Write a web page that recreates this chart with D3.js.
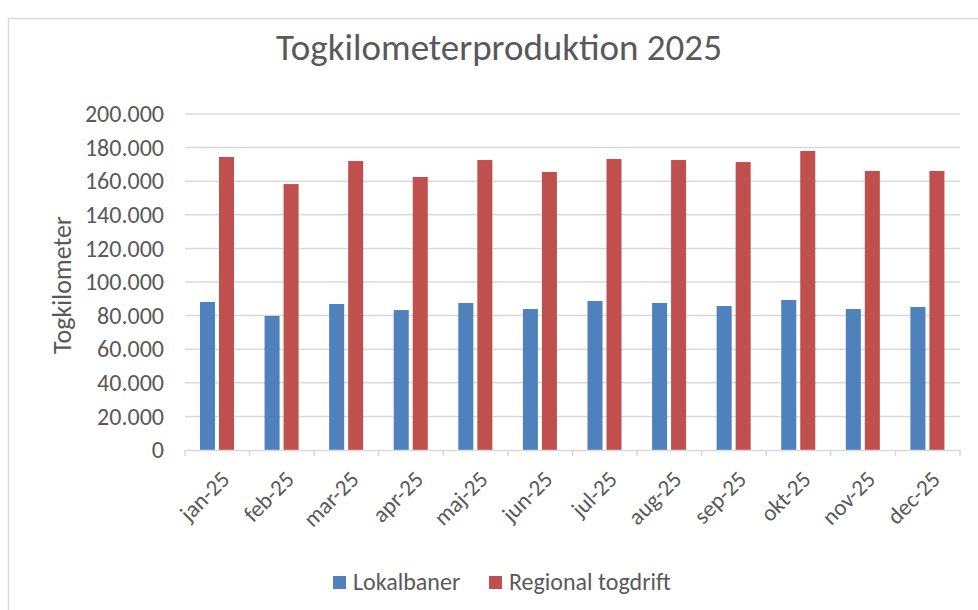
<!DOCTYPE html>
<html>
<head>
<meta charset="utf-8">
<script src="https://cdn.jsdelivr.net/npm/d3@7"></script>
<style>
  body { margin: 0; background: #fff; }
  text { font-family: Carlito, Calibri, Lato, sans-serif; fill: #595959; }
</style>
</head>
<body>
<svg id="chart" width="978" height="610"></svg>
<script>
const months = ["jan-25", "feb-25", "mar-25", "apr-25", "maj-25", "jun-25",
  "jul-25", "aug-25", "sep-25", "okt-25", "nov-25", "dec-25"];
const series = ["Lokalbaner", "Regional togdrift"];
const lokalbaner = [88100, 79800, 86900, 83300, 87500, 83900, 88700, 87500, 85700, 89300, 83900, 85100];
const regional = [174400, 158300, 172000, 162500, 172600, 165500, 173200, 172600, 171400, 178000, 166100, 166100];
const yTicks = [0, 20000, 40000, 60000, 80000, 100000, 120000, 140000, 160000, 180000, 200000];

const colors = { "Lokalbaner": "#4F81BD", "Regional togdrift": "#C0504D" };
const grid = "#D9D9D9";
const font = "Carlito, Calibri, Lato, sans-serif";

const svg = d3.select("#chart");

// ramme om diagrammet
svg.append("rect")
  .attr("x", 8.5).attr("y", 18.5)
  .attr("width", 1000).attr("height", 1000)
  .attr("fill", "none").attr("stroke", grid).attr("stroke-width", 1.5);

const da = d3.formatLocale({ decimal: ",", thousands: ".", grouping: [3], currency: ["", " kr"] });
const fmt = da.format(",.0f");

const x0 = d3.scaleBand().domain(months).range([185, 960]);
const bw = x0.bandwidth();
const x1 = d3.scaleBand().domain(series).range([0.232 * bw, 0.759 * bw]).paddingInner(0.21);
const y = d3.scaleLinear().domain([0, 200000]).range([450, 114]);

// gitterlinjer
svg.append("g")
  .selectAll("line")
  .data(yTicks.filter(d => d > 0))
  .enter().append("line")
  .attr("x1", 185).attr("x2", 960)
  .attr("y1", d => y(d)).attr("y2", d => y(d))
  .attr("stroke", grid).attr("stroke-width", 1.5);

// y-akse tekster
const yAxis = svg.append("g")
  .attr("transform", "translate(164,0)")
  .call(d3.axisLeft(y).tickValues(yTicks).tickFormat(d => d === 0 ? "0" : fmt(d)).tickSize(0).tickPadding(0));
yAxis.select(".domain").remove();
yAxis.selectAll("text")
  .attr("fill", "#595959")
  .style("font-size", "24px")
  .style("font-family", font);

// søjler
const rows = months.map((m, i) => ({ month: m, values: [
  { key: series[0], value: lokalbaner[i] },
  { key: series[1], value: regional[i] }
] }));

svg.append("g")
  .selectAll("g")
  .data(rows)
  .enter().append("g")
  .attr("transform", d => `translate(${x0(d.month)},0)`)
  .selectAll("rect")
  .data(d => d.values)
  .enter().append("rect")
  .attr("x", d => x1(d.key))
  .attr("width", x1.bandwidth())
  .attr("y", d => y(d.value))
  .attr("height", d => y(0) - y(d.value))
  .attr("fill", d => colors[d.key]);

// x-akse
const xAxis = svg.append("g")
  .attr("transform", `translate(0,${y(0)})`)
  .call(d3.axisBottom(x0).tickSize(0).tickPadding(0));
xAxis.select(".domain").attr("stroke", grid).attr("stroke-width", 1.5);
xAxis.selectAll(".tick line").remove();
xAxis.selectAll(".sep")
  .data(months.concat(["end"]))
  .enter().append("line")
  .attr("x1", (d, i) => 185 + i * bw).attr("x2", (d, i) => 185 + i * bw)
  .attr("y1", 0).attr("y2", 6)
  .attr("stroke", grid).attr("stroke-width", 1.5);
xAxis.selectAll(".tick text")
  .attr("fill", "#595959")
  .style("font-size", "23px")
  .style("font-family", font)
  .attr("text-anchor", "end")
  .attr("dy", "0.35em")
  .attr("transform", "translate(8,25) rotate(-45)");

// titel
svg.append("text")
  .attr("x", 499).attr("y", 60)
  .attr("text-anchor", "middle")
  .style("font-size", "37px")
  .text("Togkilometerproduktion 2025");

// y-akse titel
svg.append("text")
  .attr("transform", "translate(71,285) rotate(-90)")
  .attr("text-anchor", "middle")
  .style("font-size", "26px")
  .text("Togkilometer");

// forklaring
const legend = svg.append("g").attr("transform", "translate(333,582)");
const legendX = [0, 156];
series.forEach((s, i) => {
  const g = legend.append("g").attr("transform", `translate(${legendX[i]},0)`);
  g.append("rect").attr("x", 0).attr("y", -6).attr("width", 13).attr("height", 13).attr("fill", colors[s]);
  g.append("text").attr("x", 20).attr("dy", "0.35em").style("font-size", "24px").text(s);
});
</script>
</body>
</html>
